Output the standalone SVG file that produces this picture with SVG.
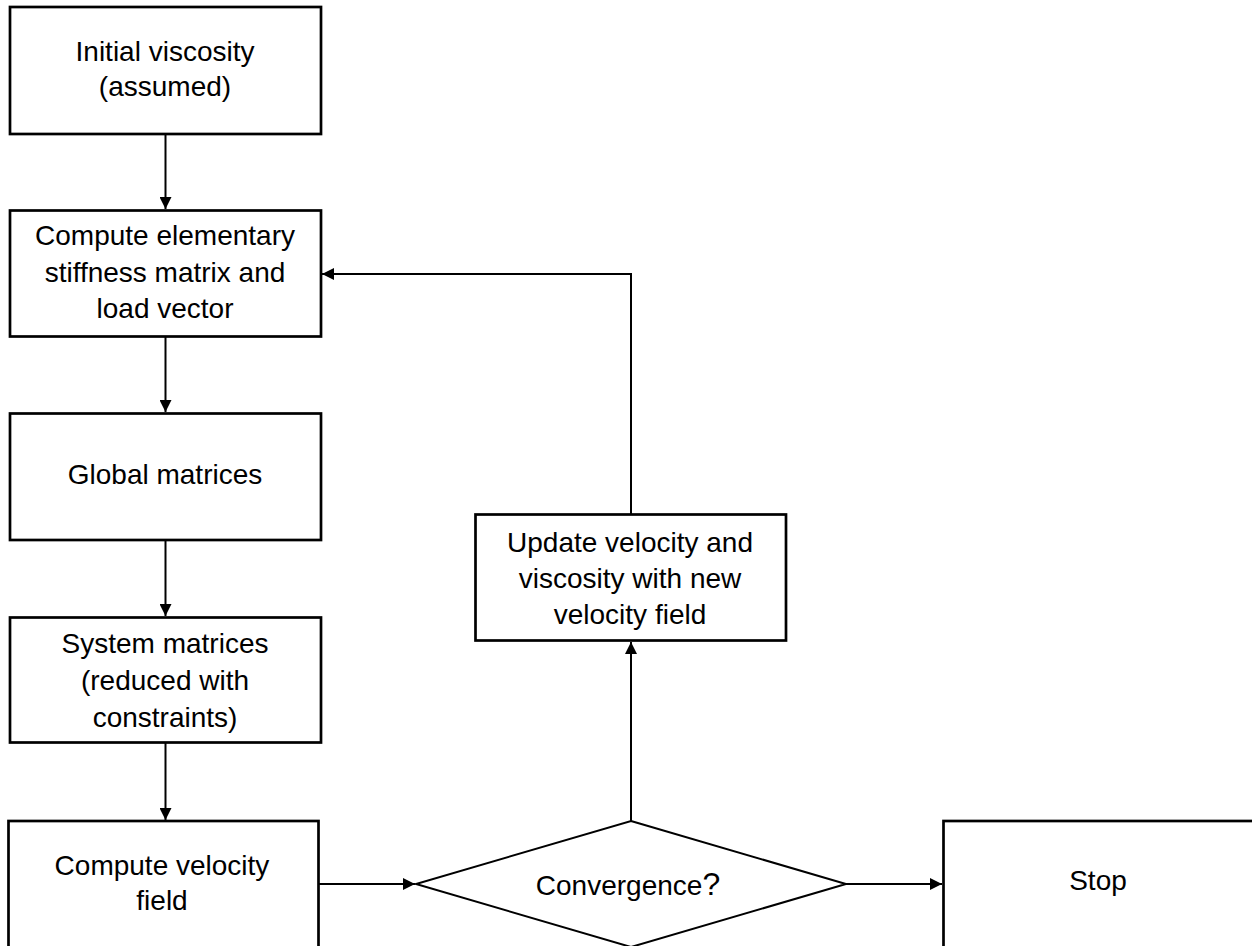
<svg xmlns="http://www.w3.org/2000/svg" width="1252" height="946" viewBox="0 0 1252 946">
<style>
.box{fill:#fff;stroke:#000;stroke-width:2.7}
.dia{fill:#fff;stroke:#000;stroke-width:2}
.t{font-family:"Liberation Sans",Arial,sans-serif;font-size:28px;fill:#000;text-anchor:middle}
.c{fill:none;stroke:#000;stroke-width:2}
</style>
<defs>
<marker id="ah" markerUnits="userSpaceOnUse" markerWidth="12" markerHeight="12" refX="12" refY="6" orient="auto">
<path d="M0,0 L12,6 L0,12 z" fill="#000"/>
</marker>
</defs>
<rect width="1252" height="946" fill="#fff"/>
<g id="connectors">
<line class="c" x1="165.5" y1="134" x2="165.5" y2="209" marker-end="url(#ah)"/>
<line class="c" x1="165.5" y1="337" x2="165.5" y2="412" marker-end="url(#ah)"/>
<line class="c" x1="165.5" y1="540" x2="165.5" y2="616" marker-end="url(#ah)"/>
<line class="c" x1="165.5" y1="743" x2="165.5" y2="820" marker-end="url(#ah)"/>
<line class="c" x1="318" y1="884" x2="415" y2="884" marker-end="url(#ah)"/>
<line class="c" x1="846" y1="884" x2="942" y2="884" marker-end="url(#ah)"/>
<line class="c" x1="631" y1="821" x2="631" y2="642" marker-end="url(#ah)"/>
<polyline class="c" points="631,514 631,274 322,274" marker-end="url(#ah)"/>
</g>
<g id="n1">
<rect class="box" x="10" y="7" width="311" height="127"/>
<text class="t" x="165" y="61">Initial viscosity</text>
<text class="t" x="165" y="96">(assumed)</text>
</g>
<g id="n2">
<rect class="box" x="10" y="210.5" width="311" height="126"/>
<text class="t" x="165" y="245">Compute  elementary</text>
<text class="t" x="165" y="281.5">stiffness  matrix and</text>
<text class="t" x="165" y="318">load vector</text>
</g>
<g id="n3">
<rect class="box" x="10" y="413.5" width="311" height="126.5"/>
<text class="t" x="165" y="484">Global matrices</text>
</g>
<g id="n4">
<rect class="box" x="10" y="617.5" width="311" height="125"/>
<text class="t" x="165" y="652.5">System matrices</text>
<text class="t" x="165" y="689.5">(reduced with</text>
<text class="t" x="165" y="726.5">constraints)</text>
</g>
<g id="n5">
<rect class="box" x="8.5" y="821" width="310" height="200"/>
<text class="t" x="162" y="875">Compute  velocity</text>
<text class="t" x="162" y="910">field</text>
</g>
<g id="n6">
<polygon class="dia" points="631,821 846,884 631,947 416,884"/>
<text class="t" x="628" y="895">Convergence<tspan font-size="32">?</tspan></text>
</g>
<g id="n7">
<rect class="box" x="943.5" y="821" width="400" height="200"/>
<text class="t" x="1098" y="890">Stop</text>
</g>
<g id="n8">
<rect class="box" x="475.5" y="514.5" width="310.5" height="126"/>
<text class="t" x="630" y="551.5">Update velocity  and</text>
<text class="t" x="630" y="588">viscosity  with new</text>
<text class="t" x="630" y="624">velocity field</text>
</g>
</svg>
